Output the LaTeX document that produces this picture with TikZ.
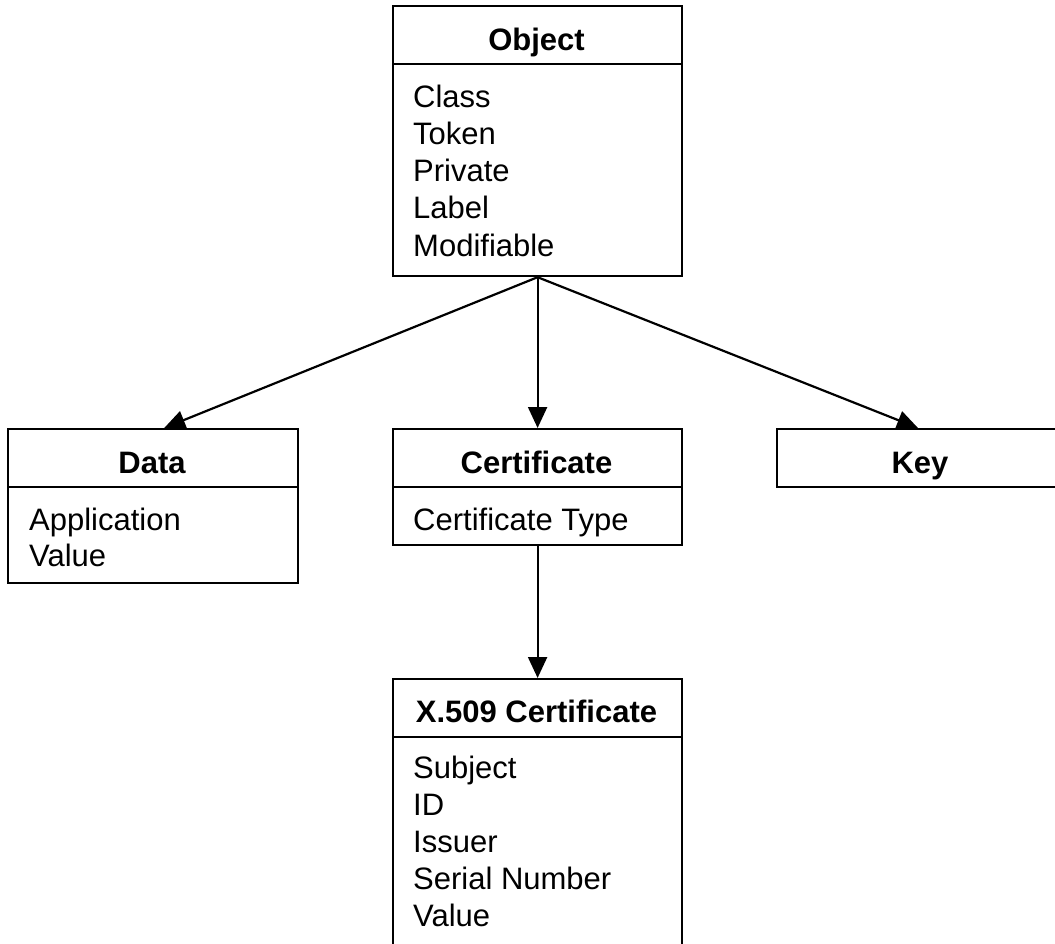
\documentclass[tikz,border=0pt]{standalone}
\usepackage{fontspec}
\setmainfont{Liberation Sans}
\usetikzlibrary{arrows.meta,calc}
\begin{document}
\begin{tikzpicture}[x=1pt,y=-1pt,
  box/.style={draw, line width=2.2pt, inner sep=0pt, anchor=north west},
  title/.style={anchor=base, inner sep=0pt, font=\bfseries\fontsize{31}{37}\selectfont},
  item/.style={anchor=base west, inner sep=0pt, font=\fontsize{31}{37}\selectfont},
  link/.style={line width=2.2pt, -{Triangle[length=21pt,width=19pt]}}]
\clip (0,0) rectangle (1055,944);
% Object
\node[box, minimum width=289pt, minimum height=58pt] (objh) at (392,5) {};
\node[box, minimum width=289pt, minimum height=212pt] (objb) at (392,63) {};
\node[title] (objt) at (536.5,51) {Object};
\foreach \t [count=\i] in {Class,Token,Private,Label,Modifiable}
  \node[item] (obj-\i) at (413,{108+37*(\i-1)}) {\t};
% Data
\node[box, minimum width=290pt, minimum height=58pt] (datah) at (7,428) {};
\node[box, minimum width=290pt, minimum height=96pt] (datab) at (7,486) {};
\node[title] (datat) at (152,473) {Data};
\node[item] (data-1) at (29,530) {Application};
\node[item] (data-2) at (29,566) {Value};
% Certificate
\node[box, minimum width=289pt, minimum height=58pt] (certh) at (392,428) {};
\node[box, minimum width=289pt, minimum height=58pt] (certb) at (392,486) {};
\node[title] (certt) at (536.5,473) {Certificate};
\node[item] (cert-1) at (413,530) {Certificate Type};
% Key
\node[box, minimum width=290pt, minimum height=58pt] (keyh) at (776,428) {};
\node[title] (keyt) at (920,473) {Key};
% X.509
\node[box, minimum width=289pt, minimum height=58pt] (xh) at (392,678) {};
\node[box, minimum width=289pt, minimum height=230pt] (xb) at (392,736) {};
\node[title] (xt) at (536.5,722) {X.509 Certificate};
\foreach \t [count=\i] in {Subject,ID,Issuer,Serial Number,Value}
  \node[item] (x-\i) at (413,{778+37*(\i-1)}) {\t};
% connectors
\draw[link] (objb.south) -- ($(datah.north west)!0.538!(datah.north east)$);
\draw[link] (objb.south) -- (certh.north);
\draw[link] (objb.south) -- ($(keyh.north west)!0.486!(keyh.north east)$);
\draw[link] (certb.south) -- (xh.north);
\end{tikzpicture}
\end{document}
